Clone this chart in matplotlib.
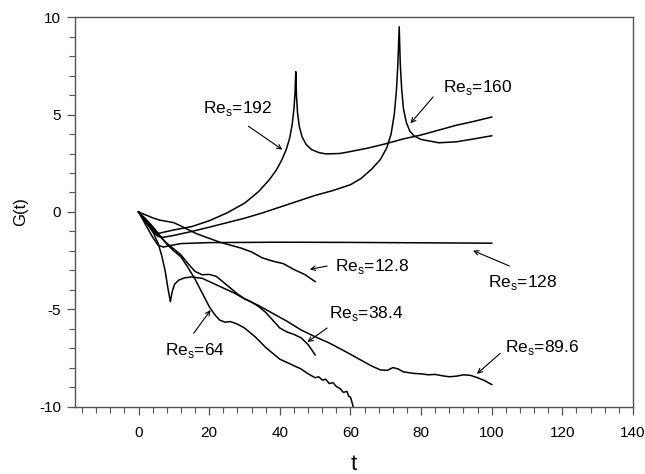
import matplotlib
matplotlib.use("Agg")
import matplotlib.pyplot as plt
from matplotlib.ticker import MultipleLocator

plt.rcParams['font.family'] = ['Liberation Sans', 'DejaVu Sans']
plt.rcParams['mathtext.fontset'] = 'custom'
plt.rcParams['mathtext.rm'] = 'Liberation Sans'
plt.rcParams['axes.unicode_minus'] = False

# Re_s = 192
t_192 = [0, 2, 4, 5, 6, 10, 15, 20, 25, 30, 34, 37, 39, 40.5, 41.8, 42.8, 43.5, 44.0, 44.3, 44.5,
         44.7, 45.0, 45.5, 46.3, 47.5, 49, 51, 53, 57, 60, 65, 70, 75, 80, 85, 90, 95, 100]
g_192 = [0, -0.5, -0.95, -1.1, -1.08, -0.92, -0.75, -0.45, -0.05, 0.45, 1.05, 1.65, 2.15, 2.65, 3.2, 3.8, 4.5, 5.3, 6.1, 7.2,
         6.0, 5.1, 4.4, 3.85, 3.45, 3.2, 3.05, 2.98, 3.0, 3.1, 3.28, 3.5, 3.75, 3.95, 4.2, 4.45, 4.65, 4.87]

# Re_s = 160
t_160 = [0, 2, 4, 5.5, 7, 10, 15, 20, 25, 30, 35, 40, 45, 50, 55, 60, 63, 66, 68.5, 70.3, 71.5, 72.4, 73.0, 73.4, 73.8,
         74.1, 74.5, 75.0, 75.8, 76.8, 78, 80, 85, 90, 95, 100]
g_160 = [0, -0.5, -1.0, -1.25, -1.3, -1.2, -1.0, -0.78, -0.55, -0.32, -0.05, 0.25, 0.55, 0.85, 1.1, 1.4, 1.72, 2.2, 2.7, 3.3, 4.0, 5.0, 6.2, 7.5, 9.5,
         7.6, 6.3, 5.3, 4.6, 4.15, 3.9, 3.72, 3.55, 3.6, 3.75, 3.91]

# Re_s = 128
t_128 = [0, 2, 4, 5.5, 7, 9, 12, 20, 40, 60, 80, 100]
g_128 = [0, -0.65, -1.3, -1.7, -1.8, -1.72, -1.62, -1.57, -1.55, -1.56, -1.58, -1.6]

# Re_s = 89.6
t_896 = [0, 2, 4, 5.5, 6.5, 7.5, 8.3, 9, 9.5, 10.2, 11.4, 13, 15, 18, 21, 24, 27, 30, 34, 38, 42, 46, 50, 54, 58, 62, 66,
         68.5, 70.5, 72, 73.5, 75, 78, 80, 82, 84, 86, 88, 90, 92, 94, 96, 98, 100]
g_896 = [0, -0.45, -1.0, -1.6, -2.2, -3.0, -3.9, -4.6, -4.1, -3.7, -3.49, -3.38, -3.33, -3.4, -3.65, -3.9, -4.15, -4.45, -4.8, -5.2, -5.6, -6.05, -6.4, -6.72, -7.1, -7.5, -7.9,
         -8.1, -8.12, -7.98, -8.05, -8.2, -8.28, -8.3, -8.35, -8.33, -8.4, -8.45, -8.42, -8.35, -8.38, -8.5, -8.65, -8.85]

# Re_s = 64
t_64 = [0, 2, 4, 6, 8, 10, 12, 14, 16, 18, 20, 21.5, 23, 24.5, 26, 28, 30, 33, 36, 40, 43, 46, 48, 50, 51, 52, 53, 54, 55, 56, 57, 58, 59, 59.5, 60, 60.5, 61]
g_64 = [0, -0.35, -0.75, -1.2, -1.65, -2.0, -2.3, -2.85, -3.45, -4.15, -4.85, -5.25, -5.55, -5.65, -5.62, -5.75, -5.95, -6.4, -6.95, -7.55, -7.8, -8.05, -8.3, -8.5, -8.45, -8.62, -8.58, -8.8, -8.75, -8.95, -9.05, -9.25, -9.2, -9.45, -9.5, -9.8, -10.2]

# Re_s = 38.4
t_384 = [0, 2, 4, 6, 8, 10, 12, 14, 16, 18, 20, 22, 24, 26, 28, 30, 32, 34, 36, 38, 40, 42, 44, 46, 48, 50]
g_384 = [0, -0.4, -0.85, -1.25, -1.6, -1.9, -2.2, -2.65, -3.05, -3.22, -3.2, -3.3, -3.6, -3.9, -4.2, -4.45, -4.62, -4.85, -5.15, -5.55, -5.95, -6.15, -6.28, -6.45, -6.8, -7.33]

# Re_s = 12.8
t_128s = [0, 2, 4, 6, 8, 10, 12, 14, 16, 18, 20, 23, 26, 29, 32, 35, 38, 41, 44, 47, 50]
g_128s = [0, -0.15, -0.3, -0.42, -0.48, -0.55, -0.72, -0.9, -1.08, -1.22, -1.35, -1.55, -1.7, -1.85, -2.05, -2.35, -2.52, -2.65, -2.95, -3.2, -3.57]

series = [(t_192, g_192), (t_160, g_160), (t_128, g_128), (t_896, g_896),
          (t_64, g_64), (t_384, g_384), (t_128s, g_128s)]

# label text, text position, arrow tail and tip
labels = ["192", "160", "12.8", "128", "38.4", "64", "89.6"]
text_xy = [(28, 5.33), (96, 6.4), (66.2, -2.77), (108.7, -3.6), (64.5, -5.2), (16.1, -7.1), (114.3, -6.97)]
tail_xy = [(31.1, 4.4), (83.4, 5.9), (53.4, -2.77), (105, -2.77), (53.4, -5.95), (15.6, -6.22), (102.4, -7.25)]
tip_xy = [(40.7, 3.2), (77, 4.55), (48.5, -2.94), (94.7, -1.98), (47.8, -6.67), (20.4, -5.03), (95.8, -8.3)]

fig = plt.figure(figsize=(6.45, 4.74), dpi=100)
ax = fig.add_axes([0.1163, 0.1414, 0.8651, 0.8227])

for t, g in series:
    ax.plot(t, g, color='black', lw=1.1)

for lab, txy, a0, a1 in zip(labels, text_xy, tail_xy, tip_xy):
    ax.text(txy[0], txy[1], r"Re$_{\mathrm{s}}$=" + lab, fontsize=12.5, ha='center', va='center')
    ax.annotate("", xy=a1, xytext=a0,
                arrowprops=dict(arrowstyle='->', lw=0.8, color='black', shrinkA=0, shrinkB=0,
                                mutation_scale=8))

ax.set_xlim(-18, 140)
ax.set_ylim(-10, 10)
ax.xaxis.set_major_locator(MultipleLocator(20))
ax.xaxis.set_minor_locator(MultipleLocator(4))
ax.yaxis.set_major_locator(MultipleLocator(5))
ax.yaxis.set_minor_locator(MultipleLocator(1))
ax.tick_params(which='major', direction='out', length=6, width=0.9, color='#555555', labelsize=11, pad=4)
ax.tick_params(which='minor', direction='out', length=4, width=0.8, color='#555555')
ax.tick_params(axis='x', which='major', pad=8)
for s in ax.spines.values():
    s.set_color('#555555')
    s.set_linewidth(1.0)

ax.set_xlabel("t", fontsize=16, labelpad=10)
ax.set_ylabel("G(t)", fontsize=12, labelpad=8)

fig.savefig("out.png", dpi=100)
